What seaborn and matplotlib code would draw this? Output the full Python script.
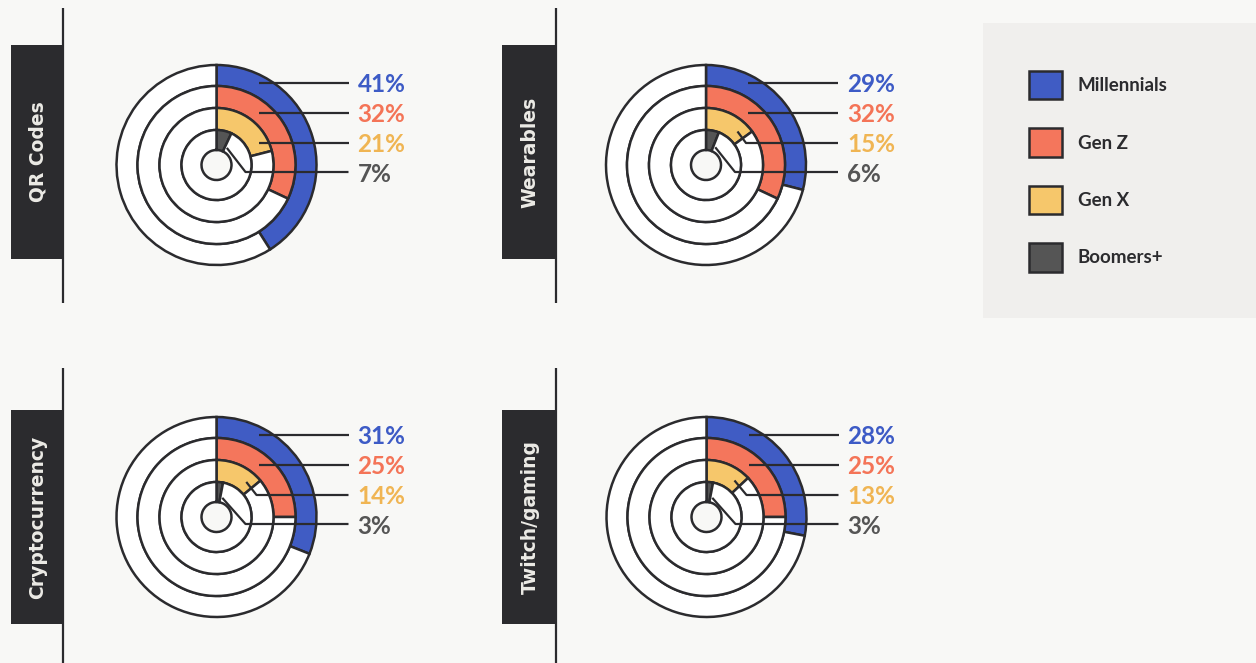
import numpy as np
import matplotlib
matplotlib.use("Agg")
import matplotlib.pyplot as plt
from matplotlib.patches import Rectangle, Patch
import seaborn as sns

# data
topics = ["QR Codes", "Wearables", "Cryptocurrency", "Twitch/gaming"]
generations = ["Millennials", "Gen Z", "Gen X", "Boomers+"]
millennials = [41, 29, 31, 28]
gen_z = [32, 32, 25, 25]
gen_x = [21, 15, 14, 13]
boomers = [7, 6, 3, 3]

sns.set_theme(style="white")
plt.rcParams["font.family"] = ["Lato", "DejaVu Sans"]

bg = "#f8f8f6"
ink = "#2b2b2e"
fills = sns.color_palette(["#405cc4", "#f4765c", "#f6c76b", "#555555"])
text_cols = ["#3d5bc6", "#f47457", "#f0b553", "#555555"]

W, H = 1256, 663
fig = plt.figure(figsize=(W / 100, H / 100), dpi=100, facecolor=bg)

# background layer in pixel coords
base = fig.add_axes([0, 0, 1, 1])
base.set_xlim(0, W)
base.set_ylim(H, 0)
base.axis("off")
base.set_facecolor(bg)

# panel centres (pixels)
centres = [(216.5, 165), (706, 165), (216.5, 517), (706.5, 517)]
boxes = [(11, 45, 63), (502, 45, 556), (11, 410, 63), (502, 410, 556)]
line_spans = [(8, 303), (8, 303), (368, 663), (368, 663)]

for (x0, y0, x1), (l0, l1), name in zip(boxes, line_spans, topics):
    base.add_patch(Rectangle((x0, y0), x1 - x0, 214, color=ink, lw=0))
    base.plot([x1, x1], [l0, l1], color=ink, lw=1.6, solid_capstyle="butt")
    base.text((x0 + x1) / 2 + 1, y0 + 107, name, rotation=90, ha="center",
              va="center", color="#ecebe6", fontsize=13.5, fontweight="bold",
              family="DejaVu Sans")

# legend box
base.add_patch(Rectangle((983, 23), 273, 295, color="#f0efed", lw=0))

# ring geometry (data units, 1 unit = 100 px)
outer = [1.0, 0.79, 0.57, 0.35]
inner_hole = 0.15
label_y = [0.82, 0.52, 0.22, -0.07]
px = 100.0
xl, xr = -1.05, 2.0
yl, yr = -1.05, 1.05

for i, (cx, cy) in enumerate(centres):
    left = (cx + xl * px) / W
    bottom = (H - (cy + yr * px)) / H
    ax = fig.add_axes([left, bottom, (xr - xl) * px / W, (yr - yl) * px / H])
    ax.set_facecolor("none")
    vals = [millennials[i], gen_z[i], gen_x[i], boomers[i]]
    for k, v in enumerate(vals):
        r_in = outer[k + 1] if k < 3 else inner_hole
        ax.pie([v, 100 - v], radius=outer[k], startangle=90, counterclock=False,
               colors=[fills[k], "white"],
               wedgeprops=dict(width=outer[k] - r_in, edgecolor=ink, linewidth=1.8))
        # leader line
        end_x = 1.32
        y = label_y[k]
        wedge_ang = v * 3.6
        if k < 3:
            sx = 0.42
            mid_r = (outer[k] + r_in) / 2
            ang = np.degrees(np.arctan2(sx, y))
            if ang <= wedge_ang - 3:
                xs, ys = [sx, end_x], [y, y]
            else:
                a = np.radians(wedge_ang * 0.8)
                xs = [mid_r * np.sin(a), 0.40, end_x]
                ys = [mid_r * np.cos(a), y, y]
        else:
            a = np.radians(wedge_ang + 6)
            xs = [0.2 * np.sin(a), 0.29, end_x]
            ys = [0.2 * np.cos(a), y, y]
        ax.plot(xs, ys, color=ink, lw=1.6, solid_capstyle="butt", zorder=5)
        ax.text(1.41, y - 0.02, f"{v}%", color=text_cols[k], fontsize=17.5,
                fontweight="bold", ha="left", va="center")
    ax.set_xlim(xl, xr)
    ax.set_ylim(yl, yr)
    ax.set_aspect("equal")
    ax.axis("off")

handles = [Patch(facecolor=fills[k], edgecolor=ink, linewidth=1.8) for k in range(4)]
leg = fig.legend(handles, generations, loc="upper left",
                 bbox_to_anchor=(1029 / W, (H - 71) / H), frameon=False,
                 fontsize=13.5, handlelength=1.75, handleheight=1.95,
                 handletextpad=0.85, labelspacing=1.55, borderpad=0,
                 borderaxespad=0)
for t in leg.get_texts():
    t.set_color(ink)
    t.set_fontweight("bold")

fig.savefig("out.png", dpi=100, facecolor=bg)
